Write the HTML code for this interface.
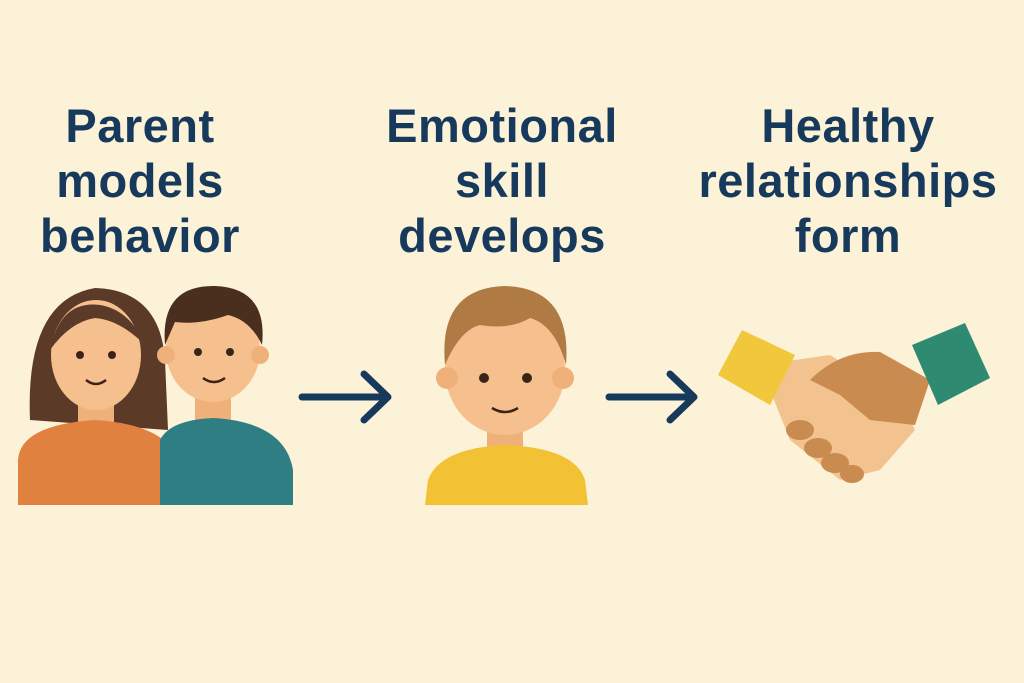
<!DOCTYPE html>
<html><head><meta charset="utf-8"><style>
html,body{margin:0;padding:0;background:#fbf2d7;}
.wrap{position:relative;width:1024px;height:683px;overflow:hidden;background:#fbf2d7;font-family:"Liberation Sans",sans-serif;}
.t{position:absolute;text-align:center;color:#173a5c;font-weight:bold;font-size:47px;line-height:55px;letter-spacing:0.5px;}
svg{position:absolute;left:0;top:0;}
</style></head><body><div class="wrap">
<div class="t" style="left:0;width:280px;top:98px;">Parent<br>models<br>behavior</div>
<div class="t" style="left:352px;width:300px;top:98px;">Emotional<br>skill<br>develops</div>
<div class="t" style="left:690px;width:316px;top:98px;">Healthy<br>relationships<br>form</div>
<svg width="1024" height="683" viewBox="0 0 1024 683">
<!-- woman -->
<path d="M30 420 Q25 300 95 288 Q160 290 165 360 L168 430 Z" fill="#5b3b28"/>
<rect x="78" y="395" width="36" height="40" fill="#f0b07a"/>
<path d="M18 505 L18 460 Q20 425 95 420 Q175 425 180 470 L180 505 Z" fill="#e08140"/>
<ellipse cx="96" cy="355" rx="45" ry="55" fill="#f6c08e"/>
<path d="M50 350 Q60 300 100 305 Q130 310 145 345 Q120 320 95 318 Q70 322 50 350Z" fill="#5b3b28"/>
<circle cx="80" cy="355" r="4" fill="#3a2418"/><circle cx="112" cy="355" r="4" fill="#3a2418"/>
<path d="M86 380 Q96 388 106 380" stroke="#3a2418" stroke-width="2.5" fill="none"/>
<!-- man -->
<rect x="195" y="385" width="36" height="45" fill="#f0b07a"/>
<path d="M160 505 L160 440 Q170 420 213 418 Q285 422 293 470 L293 505 Z" fill="#2e7e84"/>
<ellipse cx="213" cy="350" rx="47" ry="52" fill="#f6c08e"/>
<circle cx="166" cy="355" r="9" fill="#f0b07a"/><circle cx="260" cy="355" r="9" fill="#f0b07a"/>
<path d="M165 345 Q160 285 215 286 Q268 288 262 345 Q250 320 228 315 Q200 325 175 322 Z" fill="#4a2e1e"/>
<circle cx="198" cy="352" r="4" fill="#3a2418"/><circle cx="230" cy="352" r="4" fill="#3a2418"/>
<path d="M203 378 Q214 386 225 378" stroke="#3a2418" stroke-width="2.5" fill="none"/>
<!-- arrows -->
<g stroke="#173a5c" stroke-width="7" fill="none" stroke-linecap="round" stroke-linejoin="round">
<path d="M302 397 L386 397 M364 374 L388 397 L364 420"/>
<path d="M609 397 L692 397 M670 374 L694 397 L670 420"/>
</g>
<!-- child -->
<rect x="487" y="420" width="36" height="40" fill="#f0b07a"/>
<path d="M425 505 L428 480 Q440 448 505 445 Q575 448 585 480 L588 505 Z" fill="#f3c234"/>
<ellipse cx="505" cy="370" rx="60" ry="65" fill="#f6c08e"/>
<circle cx="447" cy="378" r="11" fill="#f0b07a"/><circle cx="563" cy="378" r="11" fill="#f0b07a"/>
<path d="M445 365 Q438 288 505 286 Q572 288 566 365 Q555 325 530 318 Q510 330 480 325 Q460 330 445 365Z" fill="#b07a44"/>
<circle cx="484" cy="378" r="5" fill="#3a2418"/><circle cx="527" cy="378" r="5" fill="#3a2418"/>
<path d="M492 408 Q505 416 518 408" stroke="#3a2418" stroke-width="2.5" fill="none"/>
<!-- handshake -->
<path d="M760 365 L830 355 L900 400 L915 430 L880 470 L840 480 L790 440 Z" fill="#f2c38f"/>
<path d="M810 380 Q840 350 880 352 L930 380 L915 425 L870 420 L840 395 Z" fill="#c98b4f"/>
<g fill="#c98b4f"><ellipse cx="800" cy="430" rx="14" ry="10"/><ellipse cx="818" cy="448" rx="14" ry="10"/><ellipse cx="835" cy="463" rx="14" ry="10"/><ellipse cx="852" cy="474" rx="12" ry="9"/></g>
<path d="M718 375 L742 330 L795 355 L770 405 Z" fill="#f2c73b"/>
<path d="M912 345 L965 323 L990 378 L938 405 Z" fill="#2e8b72"/>
</svg>
</div></body></html>
